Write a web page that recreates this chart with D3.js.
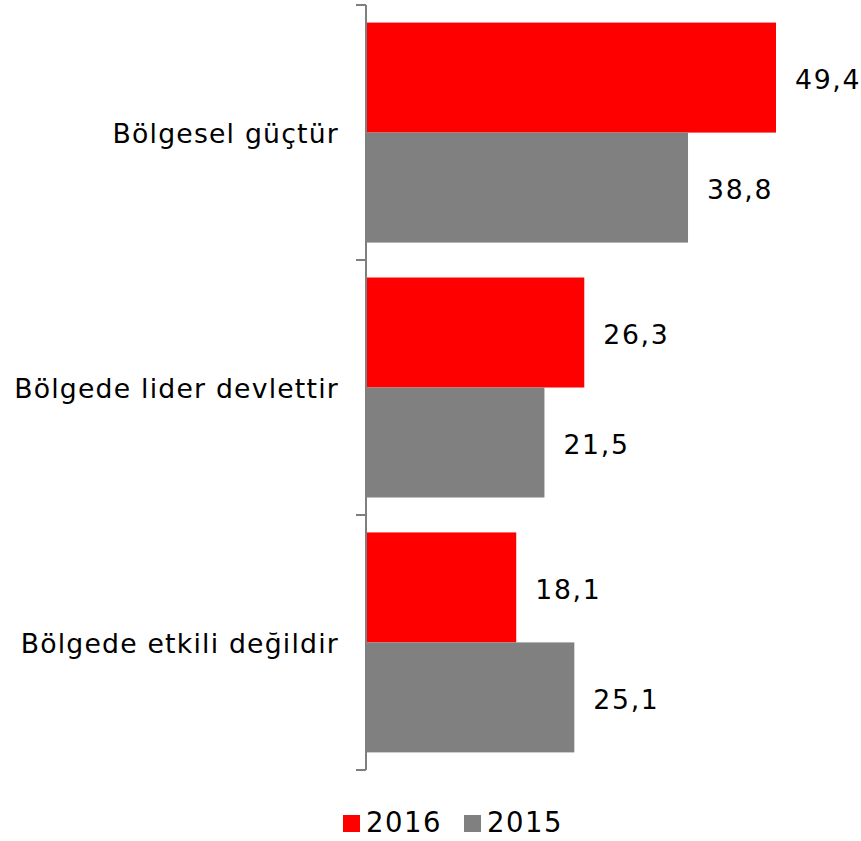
<!DOCTYPE html>
<html>
<head>
<meta charset="utf-8">
<script src="https://cdn.jsdelivr.net/npm/d3@7"></script>
<style>
  html, body { margin: 0; padding: 0; background: #fff; }
  svg { display: block; font-family: Verdana, "DejaVu Sans", sans-serif; }
</style>
</head>
<body>
<svg id="chart" width="861" height="841"></svg>
<script>
// Categories and values per year
const categories = ["Bölgesel güçtür", "Bölgede lider devlettir", "Bölgede etkili değildir"];
const seriesNames = ["2016", "2015"];
const values2016 = [49.4, 26.3, 18.1];
const values2015 = [38.8, 21.5, 25.1];
const seriesColors = ["#ff0000", "#808080"];

const svg = d3.select("#chart");
const margin = { left: 366, top: 5 };
const plotW = 410, plotH = 765;

const series = [values2016, values2015];

const y = d3.scaleBand()
  .domain(categories)
  .range([margin.top, margin.top + plotH])
  .paddingInner(0.137)
  .paddingOuter(0.069);

const yTick = d3.scaleBand().domain(categories).range([margin.top, margin.top + plotH]);

const sub = d3.scaleBand()
  .domain(seriesNames)
  .range([0, y.bandwidth()]);

const x = d3.scaleLinear()
  .domain([0, 49.4])
  .range([margin.left, margin.left + plotW]);

const fmt = v => d3.format(".1f")(v).replace(".", ",");
const fontSize = 26.7;

// Bars
categories.forEach((c, i) => {
  seriesNames.forEach((s, j) => {
    const v = series[j][i];
    const y0 = y(c) + sub(s);
    svg.append("rect")
      .attr("x", x(0))
      .attr("y", y0)
      .attr("width", x(v) - x(0))
      .attr("height", sub.bandwidth())
      .attr("fill", seriesColors[j]);
    svg.append("text")
      .attr("x", x(v) + 19)
      .attr("y", y0 + sub.bandwidth() / 2)
      .attr("dy", "0.42em")
      .attr("font-size", fontSize)
      .attr("letter-spacing", 1.7)
      .attr("fill", "#000")
      .text(fmt(v));
  });
});

// Category axis
const axisG = svg.append("g");
axisG.append("line")
  .attr("x1", x(0)).attr("x2", x(0))
  .attr("y1", margin.top).attr("y2", margin.top + plotH)
  .attr("stroke", "#7f7f7f").attr("stroke-width", 2);
const tickYs = categories.map(c => yTick(c)).concat([margin.top + plotH]);
tickYs.forEach(ty => {
  axisG.append("line")
    .attr("x1", x(0) - 10).attr("x2", x(0))
    .attr("y1", ty).attr("y2", ty)
    .attr("stroke", "#7f7f7f").attr("stroke-width", 2);
});
categories.forEach(c => {
  axisG.append("text")
    .attr("x", x(0) - 27)
    .attr("y", yTick(c) + yTick.bandwidth() / 2)
    .attr("dy", "0.4em")
    .attr("text-anchor", "end")
    .attr("font-size", fontSize)
    .attr("letter-spacing", 1.2)
    .attr("fill", "#000")
    .text(c);
});

// Legend
const legend = svg.append("g").attr("transform", "translate(343,815)");
const legendX = [0, 121];
seriesNames.forEach((s, j) => {
  const g = legend.append("g").attr("transform", `translate(${legendX[j]},0)`);
  g.append("rect").attr("width", 17).attr("height", 17).attr("fill", seriesColors[j]);
  g.append("text")
    .attr("x", 23).attr("y", 17)
    .attr("font-size", 27.5)
    .attr("letter-spacing", 1.5)
    .attr("fill", "#000")
    .text(s);
});
</script>
</body>
</html>
